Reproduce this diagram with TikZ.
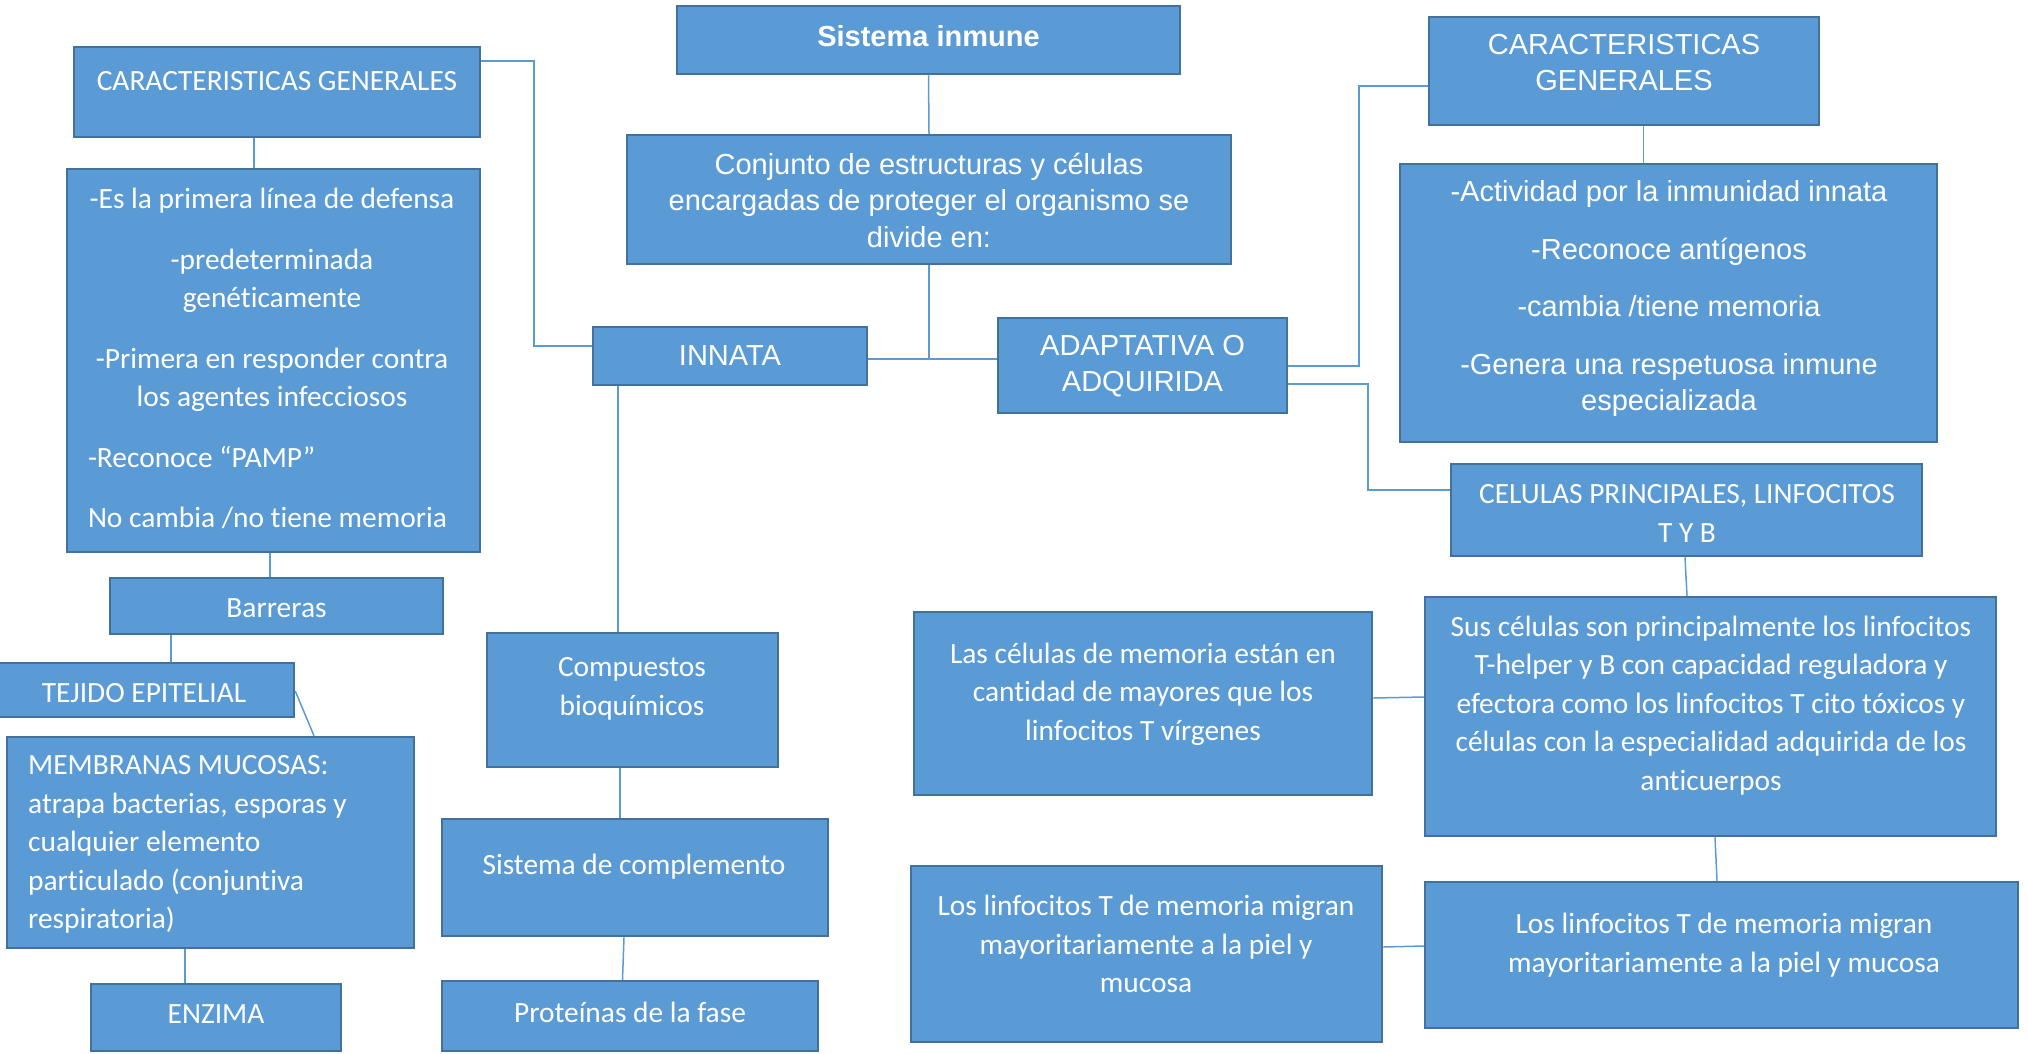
\documentclass[tikz,border=0pt]{standalone}
\usepackage{fontspec}
\setmainfont{Carlito}[Ligatures=NoCommon]
\newfontfamily\arialf{Liberation Sans}
\usepackage{tikz}
\definecolor{azul}{HTML}{5B9BD5}
\definecolor{borde}{HTML}{41719C}
\definecolor{linea}{HTML}{5B9BD5}
\tikzset{
	caja/.style = {rectangle, draw=borde, fill=azul, line width=2.5pt, inner sep=0pt},% caja azul
	txt_c/.style = {text=white, align=center, inner sep=0pt,
		font=\fontsize{29.4}{38.5}\selectfont},% texto calibri
	txt_a/.style = {text=white, align=center, inner sep=0pt,
		font=\arialf\fontsize{29}{36.5}\selectfont},% texto arial
	enlace/.style = {draw=linea, line width=1.5pt}% conector
}

\begin{document}
\begin{tikzpicture}[x=1pt,y=-1pt]
\useasboundingbox (0,0) rectangle (2028,1053);
% cajas
\node[caja, minimum width=503pt, minimum height=68pt] (sis) at (928.5,40) {};
\node[caja, minimum width=604pt, minimum height=129pt] (conj) at (929,199.5) {};
\node[caja, minimum width=274pt, minimum height=58pt] (inn) at (730,356) {};
\node[caja, minimum width=289pt, minimum height=95pt] (adap) at (1142.5,365.5) {};
\node[caja, minimum width=406pt, minimum height=90pt] (cgL) at (277,92) {};
\node[caja, minimum width=413pt, minimum height=383pt] (listL) at (273.5,360.5) {};
\node[caja, minimum width=333pt, minimum height=56pt] (bar) at (276.5,606) {};
\node[caja, minimum width=299pt, minimum height=54pt] (tej) at (144.5,690) {};
\node[caja, minimum width=407pt, minimum height=211pt] (mem) at (210.5,842.5) {};
\node[caja, minimum width=250pt, minimum height=67pt] (enz) at (216,1017.5) {};
\node[caja, minimum width=291pt, minimum height=134pt] (comp) at (632.5,700) {};
\node[caja, minimum width=386pt, minimum height=117pt] (scomp) at (635,877.5) {};
\node[caja, minimum width=376pt, minimum height=70pt] (prot) at (630,1016) {};
\node[caja, minimum width=390pt, minimum height=108pt] (cgR) at (1624,71) {};
\node[caja, minimum width=537pt, minimum height=278pt] (listR) at (1668.5,303) {};
\node[caja, minimum width=471pt, minimum height=92pt] (cel) at (1686.5,510) {};
\node[caja, minimum width=571pt, minimum height=239pt] (sus) at (1710.5,716.5) {};
\node[caja, minimum width=458pt, minimum height=183pt] (mem1) at (1143,703.5) {};
\node[caja, minimum width=471pt, minimum height=176pt] (lin1) at (1146.5,954) {};
\node[caja, minimum width=593pt, minimum height=146pt] (lin2) at (1721.5,955) {};
% textos
\node[txt_a, font=\arialf\fontsize{29}{36}\selectfont\bfseries] (sis-t) at (928.5,36) {Sistema inmune};
\node[txt_a] (conj-t) at (929,200) {Conjunto de estructuras y células\\encargadas de proteger el organismo se\\divide en:};
\node[txt_a] (inn-t) at (730,356) {INNATA};
\node[txt_a] (adap-t) at (1142.5,366) {ADAPTATIVA O\\ADQUIRIDA};
\node[txt_c] (cgL-t) at (277,81) {CARACTERISTICAS GENERALES};
\node[txt_c] (listL-t) at (272,358.5) {-Es la primera línea de defensa\\[22pt]
	-predeterminada\\genéticamente\\[22pt]
	-Primera en responder contra\\los agentes infecciosos\\[22pt]
	\makebox[368pt][l]{-Reconoce “PAMP”}\\[22pt]
	\makebox[368pt][l]{No cambia /no tiene memoria}};
\node[txt_c] (bar-t) at (276.5,608) {Barreras};
\node[txt_c] (tej-t) at (144,693) {TEJIDO EPITELIAL};
\node[txt_c, align=left, anchor=west] (mem-t) at (28,844.5) {MEMBRANAS MUCOSAS:\\atrapa bacterias, esporas y\\cualquier elemento\\particulado (conjuntiva\\respiratoria)};
\node[txt_c] (enz-t) at (216,1014) {ENZIMA};
\node[txt_c] (comp-t) at (632,689) {Compuestos\\bioquímicos};
\node[txt_c] (scomp-t) at (634,867) {Sistema de complemento};
\node[txt_c] (prot-t) at (630,1012) {Proteínas de la fase};
\node[txt_a, font=\arialf\fontsize{29}{36}\selectfont] (cgR-t) at (1624,63) {CARACTERISTICAS\\GENERALES};
\node[txt_a, font=\arialf\fontsize{29}{36}\selectfont] (listR-t) at (1669,298.5) {-Actividad por la inmunidad innata\\[22pt]
	-Reconoce antígenos\\[21pt]
	-cambia /tiene memoria\\[22pt]
	-Genera una respetuosa inmune\\especializada};
\node[txt_c] (cel-t) at (1687,513.5) {CELULAS PRINCIPALES, LINFOCITOS\\T Y B};
\node[txt_c] (sus-t) at (1711,705.5) {Sus células son principalmente los linfocitos\\T-helper y B con capacidad reguladora y\\efectora como los linfocitos T cito tóxicos y\\células con la especialidad adquirida de los\\anticuerpos};
\node[txt_c] (mem1-t) at (1143,694) {Las células de memoria están en\\cantidad de mayores que los\\linfocitos T vírgenes};
\node[txt_c] (lin1-t) at (1146,944) {Los linfocitos T de memoria migran\\mayoritariamente a la piel y\\mucosa};
\node[txt_c] (lin2-t) at (1724,945) {Los linfocitos T de memoria migran\\mayoritariamente a la piel y mucosa};
% conectores
\coordinate (jn) at (929,359);
\draw[enlace] (sis.south) -- (conj.north);
\draw[enlace] (conj.south) -- (jn);
\draw[enlace] (inn.east |- jn) -- (adap.west |- jn);
\draw[enlace] (cgL.east |- 0,61) -| (534,346) -- (inn.west |- 0,346);
\draw[enlace] (cgL.south -| 254,0) -- (listL.north -| 254,0);
\draw[enlace] (listL.south -| 270,0) -- (bar.north -| 270,0);
\draw[enlace] (bar.south -| 171,0) -- (tej.north -| 171,0);
\draw[enlace] (tej.east |- 0,691) -- (mem.north -| 314,0);
\draw[enlace] (mem.south -| 185,0) -- (enz.north -| 185,0);
\draw[enlace] (inn.south -| 618,0) -- (comp.north -| 618,0);
\draw[enlace] (comp.south -| 620,0) -- (scomp.north -| 620,0);
\draw[enlace] (scomp.south -| 624,0) -- (prot.north -| 622.5,0);
\draw[enlace] (adap.east |- 0,366) -| (1359,86) -- (cgR.west |- 0,86);
\draw[enlace] (adap.east |- 0,384) -| (1368,490) -- (cel.west |- 0,490);
\draw[enlace] (cgR.south -| 1643.5,0) -- (listR.north -| 1643.5,0);
\draw[enlace] (cel.south -| 1685,0) -- (sus.north -| 1687,0);
\draw[enlace] (mem1.east |- 0,698) -- (sus.west |- 0,697);
\draw[enlace] (sus.south -| 1715,0) -- (lin2.north -| 1717,0);
\draw[enlace] (lin1.east |- 0,947) -- (lin2.west |- 0,946);
\end{tikzpicture}
\end{document}
